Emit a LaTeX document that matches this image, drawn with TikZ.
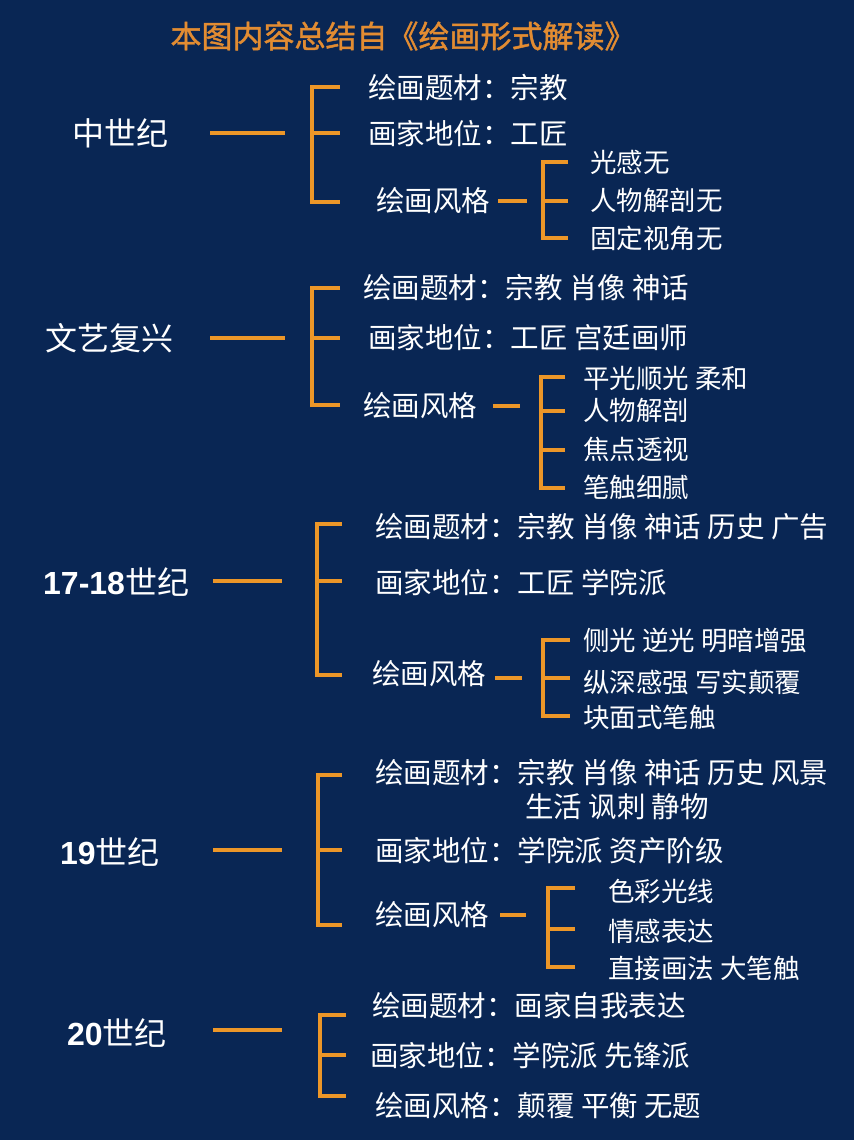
\documentclass[tikz,border=0pt]{standalone}
\usepackage{fontspec}
\usepackage{xcolor}
\usepackage{tikz}
\setmainfont{Liberation Sans}
\newfontfamily\cjk{Noto Sans CJK SC}
\newfontfamily\cjkbold{Noto Sans CJK SC}[FakeBold=1.4]
\newfontfamily\digits{Liberation Sans}
\definecolor{boardnavy}{RGB}{9, 38, 84}
\definecolor{linkorange}{RGB}{236, 150, 40}
\definecolor{titleorange}{RGB}{226, 140, 50}

\begin{document}
\begin{tikzpicture}[
    x=1pt, y=-1pt,
    headline/.style={text=titleorange, font=\cjkbold\fontsize{31}{35}\selectfont, inner sep=0},
    era/.style={anchor=west, text=white, font=\cjk\fontsize{32}{36}\selectfont, inner sep=0},
    item/.style={anchor=west, text=white, font=\cjk\fontsize{28.5}{32}\selectfont, inner sep=0},
    subitem/.style={anchor=west, text=white, font=\cjk\fontsize{26.5}{30}\selectfont, inner sep=0},
    link/.style={draw=linkorange, line width=4.5pt}
]
    % Background and page size
    \fill[boardnavy] (0,0) rectangle (854,1140);
    \useasboundingbox (0,0) rectangle (854,1140);

    % Title
    \node[headline] (title) at (403,36) {本图内容总结自《绘画形式解读》};

    % Middle Ages
    \node[era] (mid) at (72,133) {中世纪};
    \coordinate (mid-a) at (210,133);
    \coordinate (mid-b) at (285,133);
    \draw[link] (mid-a) -- (mid-b);
    \draw[link] (340,87) -| (312,202) -- (340,202);
    \draw[link] (312,133) -- (340,133);
    \node[item] (mid-sub) at (368,88) {绘画题材：宗教};
    \node[item] (mid-pos) at (368,134) {画家地位：工匠};
    \node[item] (mid-sty) at (376,201) {绘画风格};
    \coordinate (mid-sa) at (498,201);
    \coordinate (mid-sb) at (527,201);
    \draw[link] (mid-sa) -- (mid-sb);
    \draw[link] (568,162) -| (543,238) -- (568,238);
    \draw[link] (543,201) -- (568,201);
    \node[subitem] (mid-s1) at (590,162) {光感无};
    \node[subitem] (mid-s2) at (590,200) {人物解剖无};
    \node[subitem] (mid-s3) at (590,238) {固定视角无};

    % Renaissance
    \node[era] (ren) at (45,338) {文艺复兴};
    \coordinate (ren-a) at (210,338);
    \coordinate (ren-b) at (285,338);
    \draw[link] (ren-a) -- (ren-b);
    \draw[link] (340,288) -| (312,405) -- (340,405);
    \draw[link] (312,338) -- (340,338);
    \node[item] (ren-sub) at (363,288) {绘画题材：宗教 肖像 神话};
    \node[item] (ren-pos) at (368,338) {画家地位：工匠 宫廷画师};
    \node[item] (ren-sty) at (363,406) {绘画风格};
    \coordinate (ren-sa) at (493,406);
    \coordinate (ren-sb) at (520,406);
    \draw[link] (ren-sa) -- (ren-sb);
    \draw[link] (565,377) -| (541,488) -- (565,488);
    \draw[link] (541,411) -- (565,411);
    \draw[link] (541,450) -- (565,450);
    \node[subitem] (ren-s1) at (583,378) {平光顺光 柔和};
    \node[subitem] (ren-s2) at (583,410) {人物解剖};
    \node[subitem] (ren-s3) at (583,449) {焦点透视};
    \node[subitem] (ren-s4) at (583,487) {笔触细腻};

    % 17th-18th century
    \node[era] (baq) at (43,582) {{\digits\bfseries 17-18}世纪};
    \coordinate (baq-a) at (213,581);
    \coordinate (baq-b) at (282,581);
    \draw[link] (baq-a) -- (baq-b);
    \draw[link] (342,524) -| (317,675) -- (342,675);
    \draw[link] (317,581) -- (342,581);
    \node[item] (baq-sub) at (375,527) {绘画题材：宗教 肖像 神话 历史 广告};
    \node[item] (baq-pos) at (375,583) {画家地位：工匠 学院派};
    \node[item] (baq-sty) at (372,674) {绘画风格};
    \coordinate (baq-sa) at (495,678);
    \coordinate (baq-sb) at (522,678);
    \draw[link] (baq-sa) -- (baq-sb);
    \draw[link] (570,640) -| (543,716) -- (570,716);
    \draw[link] (543,678) -- (570,678);
    \node[subitem] (baq-s1) at (583,640) {侧光 逆光 明暗增强};
    \node[subitem] (baq-s2) at (583,682) {纵深感强 写实颠覆};
    \node[subitem] (baq-s3) at (583,717) {块面式笔触};

    % 19th century
    \node[era] (c19) at (60,852) {{\digits\bfseries 19}世纪};
    \coordinate (c19-a) at (213,850);
    \coordinate (c19-b) at (282,850);
    \draw[link] (c19-a) -- (c19-b);
    \draw[link] (342,775) -| (318,925) -- (342,925);
    \draw[link] (318,850) -- (342,850);
    \node[item] (c19-sub) at (375,773) {绘画题材：宗教 肖像 神话 历史 风景};
    \node[item] (c19-sub2) at (525,807) {生活 讽刺 静物};
    \node[item] (c19-pos) at (375,851) {画家地位：学院派 资产阶级};
    \node[item] (c19-sty) at (375,915) {绘画风格};
    \coordinate (c19-sa) at (500,915);
    \coordinate (c19-sb) at (526,915);
    \draw[link] (c19-sa) -- (c19-sb);
    \draw[link] (575,888) -| (548,967) -- (575,967);
    \draw[link] (548,929) -- (575,929);
    \node[subitem] (c19-s1) at (608,891) {色彩光线};
    \node[subitem] (c19-s2) at (608,931) {情感表达};
    \node[subitem] (c19-s3) at (608,968) {直接画法 大笔触};

    % 20th century
    \node[era] (c20) at (67,1033) {{\digits\bfseries 20}世纪};
    \coordinate (c20-a) at (213,1030);
    \coordinate (c20-b) at (282,1030);
    \draw[link] (c20-a) -- (c20-b);
    \draw[link] (346,1015) -| (320,1096) -- (346,1096);
    \draw[link] (320,1055) -- (346,1055);
    \node[item] (c20-sub) at (372,1006) {绘画题材：画家自我表达};
    \node[item] (c20-pos) at (370,1056) {画家地位：学院派 先锋派};
    \node[item] (c20-sty) at (375,1106) {绘画风格：颠覆 平衡 无题};
\end{tikzpicture}
\end{document}
